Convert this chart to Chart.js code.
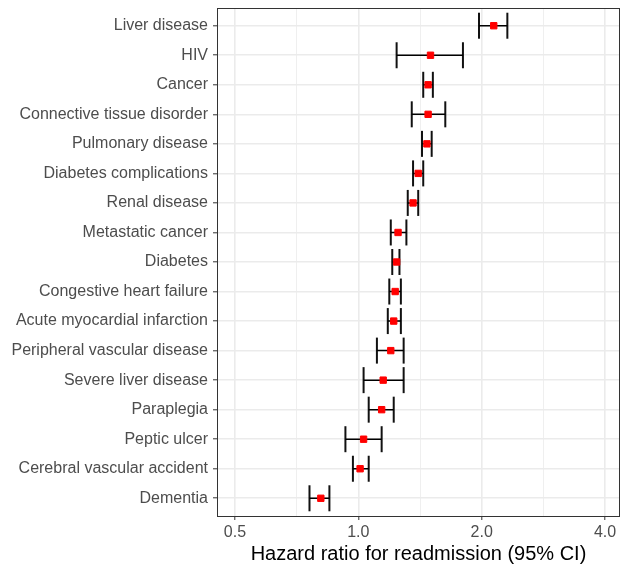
<!DOCTYPE html>
<html>
<head>
<meta charset="utf-8">
<script src="https://cdn.jsdelivr.net/npm/chart.js@4/dist/chart.umd.min.js"></script>
<style>
  body { margin: 0; background: #fff; }
  #wrap { width: 621px; height: 570px; }
</style>
</head>
<body>
<div id="wrap"><canvas id="forest" width="621" height="570"></canvas></div>
<script>
// Comorbidities, top to bottom
const conditions = ['Liver disease', 'HIV', 'Cancer', 'Connective tissue disorder', 'Pulmonary disease',
  'Diabetes complications', 'Renal disease', 'Metastatic cancer', 'Diabetes', 'Congestive heart failure',
  'Acute myocardial infarction', 'Peripheral vascular disease', 'Severe liver disease', 'Paraplegia',
  'Peptic ulcer', 'Cerebral vascular accident', 'Dementia'];
const hazardRatio = [2.14, 1.50, 1.48, 1.48, 1.47, 1.40, 1.36, 1.25, 1.24, 1.23, 1.22, 1.20, 1.15, 1.14, 1.03, 1.01, 0.81];
const ciLower = [1.97, 1.24, 1.44, 1.35, 1.43, 1.36, 1.32, 1.20, 1.21, 1.19, 1.18, 1.11, 1.03, 1.06, 0.93, 0.97, 0.76];
const ciUpper = [2.31, 1.80, 1.52, 1.63, 1.51, 1.44, 1.40, 1.31, 1.26, 1.27, 1.27, 1.29, 1.29, 1.22, 1.14, 1.06, 0.85];
const xMajorTicks = [0.5, 1.0, 2.0, 4.0];
const xMinorTicks = [0.7071, 1.4142, 2.8284];

Chart.defaults.font.family = "'Liberation Sans', Arial, sans-serif";

// horizontal CI segments, separated by gaps
const ciSegments = [];
conditions.forEach((c, i) => {
  ciSegments.push({ x: ciLower[i], y: i }, { x: ciUpper[i], y: i }, { x: null, y: null });
});
const caps = [];
conditions.forEach((c, i) => {
  caps.push({ x: ciLower[i], y: i }, { x: ciUpper[i], y: i });
});

// panel border like theme_bw
const panelBorder = {
  id: 'panelBorder',
  afterDraw(chart) {
    const { ctx, chartArea: a } = chart;
    ctx.save();
    ctx.strokeStyle = '#333333';
    ctx.lineWidth = 1;
    ctx.strokeRect(a.left + 0.5, a.top + 0.5, a.right - a.left - 1, a.bottom - a.top);
    ctx.restore();
  }
};

const allXTicks = xMajorTicks.concat(xMinorTicks).sort((a, b) => a - b);
const isMajor = v => xMajorTicks.some(m => Math.abs(m - v) < 1e-6);

new Chart(document.getElementById('forest'), {
  type: 'scatter',
  data: {
    datasets: [
      {
        data: conditions.map((c, i) => ({ x: hazardRatio[i], y: i })),
        pointStyle: 'rect',
        pointRadius: 4.5,
        pointBackgroundColor: '#ff0000',
        pointBorderColor: '#ff0000',
        pointBorderWidth: 1
      },
      {
        data: ciSegments,
        showLine: true,
        spanGaps: false,
        borderColor: '#000000',
        borderWidth: 1.5,
        pointRadius: 0
      },
      {
        data: caps,
        pointStyle: 'line',
        rotation: 90,
        pointRadius: 13,
        pointBorderColor: '#111111',
        pointBorderWidth: 2
      }
    ]
  },
  options: {
    responsive: false,
    animation: false,
    events: [],
    layout: { autoPadding: false, padding: { top: 8, right: 1, left: 0, bottom: 0 } },
    plugins: { legend: { display: false }, tooltip: { enabled: false } },
    scales: {
      x: {
        type: 'logarithmic',
        min: 0.452,
        max: 4.35,
        afterBuildTicks: s => { s.ticks = allXTicks.map(v => ({ value: v })); },
        afterFit: s => { s.height = 54; s.paddingLeft = 0; s.paddingRight = 0; },
        grid: {
          color: '#ebebeb',
          lineWidth: ctx => (ctx.tick && isMajor(ctx.tick.value)) ? 1.6 : 0.8,
          tickColor: ctx => (ctx.tick && isMajor(ctx.tick.value)) ? '#333333' : 'rgba(0,0,0,0)',
          tickLength: 4,
          tickWidth: 1
        },
        border: { display: false },
        ticks: {
          autoSkip: false,
          maxRotation: 0,
          padding: 3,
          color: '#4d4d4d',
          font: { size: 16 },
          callback: v => isMajor(v) ? Number(v).toFixed(1) : ''
        },
        title: {
          display: true,
          text: 'Hazard ratio for readmission (95% CI)',
          color: '#000000',
          font: { size: 20 },
          padding: { top: 2, bottom: 4 }
        }
      },
      y: {
        type: 'linear',
        reverse: true,
        min: -0.6,
        max: conditions.length - 1 + 0.6,
        afterBuildTicks: s => { s.ticks = conditions.map((c, i) => ({ value: i })); },
        afterFit: s => { s.width = 217; s.paddingTop = 0; s.paddingBottom = 0; },
        grid: {
          color: '#ebebeb',
          lineWidth: 1.6,
          tickColor: '#333333',
          tickLength: 4,
          tickWidth: 1
        },
        border: { display: false },
        ticks: {
          autoSkip: false,
          padding: 5,
          color: '#4d4d4d',
          font: { size: 16 },
          callback: v => conditions[v]
        }
      }
    }
  },
  plugins: [panelBorder]
});
</script>
</body>
</html>
